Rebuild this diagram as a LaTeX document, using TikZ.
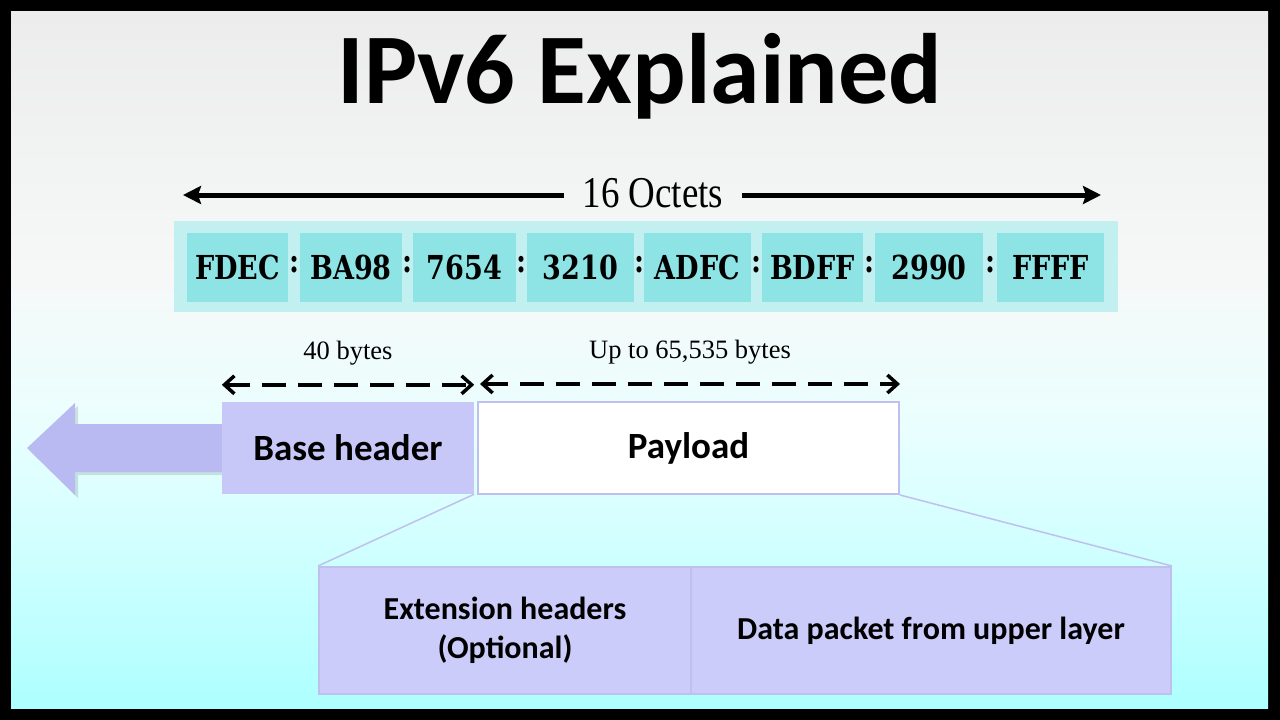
\documentclass[tikz,border=0pt]{standalone}
\usepackage{fontspec}
\newfontfamily\calb{Carlito}
\newfontfamily\octf{DejaVu Serif}[FakeStretch=0.82]
\newfontfamily\octs{Liberation Serif}[FakeStretch=0.84]
\newfontfamily\lblf{Liberation Serif}
\usetikzlibrary{arrows.meta}
\definecolor{octc}{HTML}{8EE4E4}
\definecolor{bandc}{HTML}{C2F0F0}
\definecolor{lavf}{HTML}{C8C8F8}
\definecolor{lavb}{HTML}{C0C0EE}
\definecolor{arrf}{HTML}{BABAF2}
\definecolor{lowf}{HTML}{CCCCFA}
\pgfdeclareverticalshading{bgshade}{100bp}{
  rgb(0bp)=(0.68,1,1);
  rgb(25bp)=(0.68,1,1);
  rgb(35bp)=(0.80,1,1);
  rgb(45.5bp)=(0.92,0.998,0.998);
  rgb(56bp)=(0.965,0.972,0.972);
  rgb(75bp)=(0.925,0.925,0.925);
  rgb(100bp)=(0.925,0.925,0.925)}
\tikzset{
  octbox/.style={fill=octc, minimum width=#1, minimum height=69pt, inner sep=0pt,
    font=\octf\bfseries\fontsize{33}{33}\selectfont},
  colon/.style={inner sep=0pt, font=\octf\bfseries\fontsize{33}{33}\selectfont},
  lbl/.style={inner sep=0pt, font=\lblf\fontsize{26.5}{26.5}\selectfont},
  bigtxt/.style={font=\calb\bfseries\fontsize{37}{37}\selectfont},
  lowtxt/.style={font=\calb\bfseries\fontsize{32}{39}\selectfont, align=center},
  dimarrow/.style={line width=3.5pt, dash pattern=on 24pt off 12pt,
    {Straight Barb[length=10pt,width=18pt,line width=3.5pt]}-{Straight Barb[length=10pt,width=18pt,line width=3.5pt]}},
  solidarrow/.style={line width=5pt, -{Stealth[length=18pt,width=18pt,inset=3pt]}},
  fan/.style={draw=lavb, line width=1.5pt}
}
\begin{document}
\begin{tikzpicture}[x=1pt,y=-1pt]
\useasboundingbox (0,0) rectangle (1280,720);
\fill[black] (0,0) rectangle (1280,720);
\shade[shading=bgshade] (11,11) rectangle (1268,708);

% title
\node[anchor=base, inner sep=0pt, font=\calb\bfseries\fontsize{100}{100}\selectfont] (title) at (640,103) {IPv6 Explained};

% 16 octets arrow
\node[inner ysep=0pt, inner xsep=18pt, font=\octs\fontsize{44}{44}\selectfont] (oct) at (653,193) {16 Octets};
\coordinate (al) at (183,195);
\coordinate (ar) at (1101,195);
\draw[solidarrow] (oct.west |- al) -- (al);
\draw[solidarrow] (oct.east |- ar) -- (ar);

% octet band
\node[fill=bandc, minimum width=944pt, minimum height=91pt, inner sep=0pt] (band) at (646,266.5) {};
\node[octbox=101pt] (o1) at (237.5,267.5) {FDEC};
\node[octbox=102pt] (o2) at (351,267.5) {BA98};
\node[octbox=103pt] (o3) at (464.5,267.5) {7654};
\node[octbox=107pt] (o4) at (580.5,267.5) {3210};
\node[octbox=107pt] (o5) at (697.5,267.5) {ADFC};
\node[octbox=101pt] (o6) at (812.5,267.5) {BDFF};
\node[octbox=108pt] (o7) at (929,267.5) {2990};
\node[octbox=107pt] (o8) at (1050.5,267.5) {FFFF};
\node[colon] (c1) at (294,265) {:};
\node[colon] (c2) at (407.5,265) {:};
\node[colon] (c3) at (521.5,265) {:};
\node[colon] (c4) at (639,265) {:};
\node[colon] (c5) at (756.5,265) {:};
\node[colon] (c6) at (869,265) {:};
\node[colon] (c7) at (990,265) {:};

% big left arrow (shadow + body)
\fill[black, opacity=0.12] (225,427) -- (78,427) -- (78,406) -- (30,451) -- (78,498) -- (78,475) -- (225,475) -- cycle;
\fill[arrf] (224,424) -- (75,424) -- (75,403) -- (27,448) -- (75,495) -- (75,472) -- (224,472) -- cycle;

% header / payload
\node[fill=lavf, minimum width=252pt, minimum height=92pt, inner sep=0pt, bigtxt] (bh) at (348,448) {Base header};
\node[fill=white, draw=lavb, line width=2pt, minimum width=421pt, minimum height=92pt, inner sep=0pt, bigtxt] (pl) at (688.5,448) {Payload};

% dimension arrows
\draw[dimarrow] ([yshift=17pt]bh.north west) -- ([yshift=17pt]bh.north east);
\draw[dimarrow] ([yshift=17pt,xshift=3pt]pl.north west) -- ([yshift=17pt]pl.north east);
\node[lbl] (l40) at (348,353) {40 bytes};
\node[lbl] (lup) at (690,352) {Up to 65,535 bytes};

% lower boxes
\node[fill=lowf, draw=lavb, line width=2pt, minimum width=372pt, minimum height=127pt, inner sep=0pt, lowtxt] (ex) at (505,630.5) {Extension headers\\(Optional)};
\node[fill=lowf, draw=lavb, line width=2pt, minimum width=480pt, minimum height=127pt, inner sep=0pt, lowtxt] (dp) at (931,630.5) {Data packet from upper layer};

\draw[fan] (bh.south east) -- (ex.north west);
\draw[fan] (pl.south east) -- (dp.north east);
\end{tikzpicture}
\end{document}
